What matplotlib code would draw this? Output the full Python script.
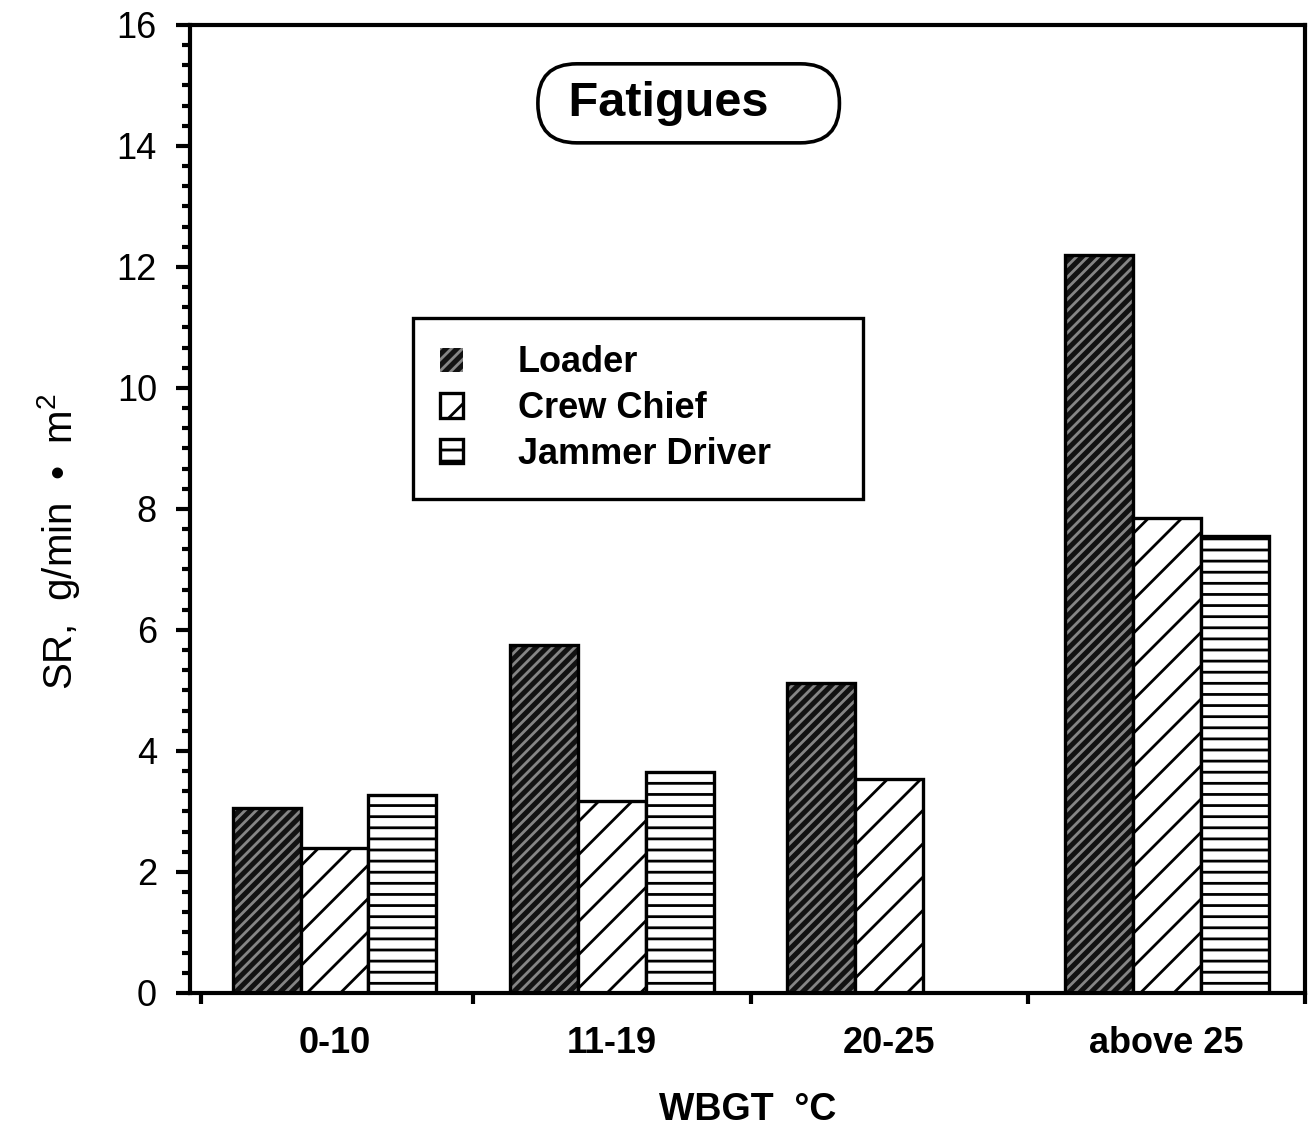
import matplotlib
matplotlib.use("Agg")
import matplotlib.pyplot as plt
import numpy as np
from matplotlib.ticker import MultipleLocator, FixedLocator

plt.rcParams['font.family'] = ['Liberation Sans', 'DejaVu Sans']
plt.rcParams['mathtext.fontset'] = 'custom'
plt.rcParams['mathtext.rm'] = 'Liberation Sans'
plt.rcParams['hatch.linewidth'] = 1.0

# data
groups = ['0-10', '11-19', '20-25', 'above 25']
loader = [3.05, 5.75, 5.12, 12.2]
crew_chief = [2.4, 3.17, 3.53, 7.85]
jammer_driver = [3.27, 3.65, np.nan, 7.55]

x = np.arange(len(groups))
w = 0.245

fig = plt.figure(figsize=(6.56, 5.665), dpi=200)
ax = fig.add_axes([0.145, 0.1236, 0.85, 0.8544])

# loader: dark fill with light diagonal lines, then black outline
b1 = ax.bar(x - w, loader, w, color='#121212', edgecolor='#858585', hatch='//////', linewidth=0)
ax.bar(x - w, loader, w, fill=False, edgecolor='black', linewidth=1.2)
b2 = ax.bar(x, crew_chief, w, color='white', edgecolor='black', hatch='//', linewidth=1.2)
b3 = ax.bar(x + w, jammer_driver, w, color='white', edgecolor='black', hatch='---', linewidth=1.2)

ax.set_xlim(-0.52, 3.5)
ax.set_ylim(0, 16)

for s in ax.spines.values():
    s.set_linewidth(1.5)

ax.yaxis.set_major_locator(MultipleLocator(2))
ax.yaxis.set_minor_locator(MultipleLocator(1 / 3))
ax.tick_params(axis='y', which='major', length=5, width=1.5, labelsize=13, pad=7)
ax.tick_params(axis='y', which='minor', length=3, width=1.5)

ax.xaxis.set_major_locator(FixedLocator([-0.48, 0.5, 1.5, 2.5, 3.5]))
ax.xaxis.set_major_formatter(plt.NullFormatter())
ax.set_xticks(x, groups, minor=True)
ax.tick_params(axis='x', which='major', length=4, width=1.5)
ax.tick_params(axis='x', which='minor', length=0, labelsize=13, pad=12)
for t in ax.get_xticklabels(minor=True):
    t.set_fontweight('bold')

ax.set_xlabel('WBGT  °C', fontsize=13.5, fontweight='bold', labelpad=11)
ax.set_ylabel('SR,  g/min  •  m$^2$', fontsize=14.5)
ax.yaxis.set_label_coords(-0.097, 0.466)

ax.text(0.327, 0.919, ' Fatigues    ', transform=ax.transAxes, ha='left', va='center',
        fontsize=17.5, fontweight='bold',
        bbox=dict(boxstyle='round,pad=0.35,rounding_size=0.8', fc='white', ec='black', lw=1.3))

leg = ax.legend([b1, b2, b3], ['Loader', 'Crew Chief', 'Jammer Driver'],
                loc='upper left', bbox_to_anchor=(0.2, 0.45, 0.403, 0.247), mode='expand',
                fancybox=False, framealpha=1, edgecolor='black',
                handlelength=0.64, handleheight=0.65,
                handletextpad=1.5, labelspacing=0.3, borderpad=0.75, borderaxespad=0,
                prop={'size': 13, 'weight': 'bold'})
leg.get_frame().set_linewidth(1.2)

fig.savefig('out.png', dpi=200)
